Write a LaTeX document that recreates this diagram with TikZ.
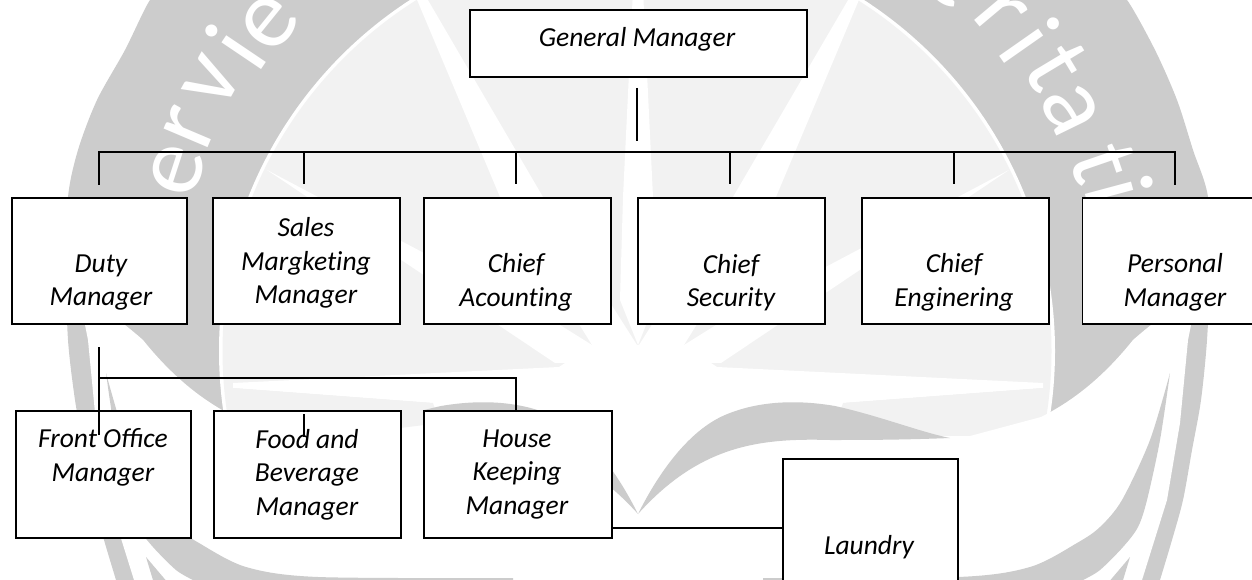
\documentclass[tikz,border=0pt]{standalone}
\usepackage{fontspec}
\setmainfont{Carlito}
\definecolor{wmdark}{HTML}{CCCCCC}
\definecolor{wmlight}{HTML}{F2F2F2}
\tikzset{
  orgbox/.style={draw=black,line width=1.8pt,fill=white,inner sep=0pt},
  lbl/.style={font=\fontsize{27.5}{33.4}\selectfont\itshape,align=center,inner sep=0pt,anchor=center,text=black},
  link/.style={draw=black,line width=1.5pt},
  wl/.style={font=\fontsize{100}{100}\selectfont,text=white,inner sep=0pt}
}
\newcommand{\wmhalf}{%
  % rays
  \fill[white] (638,-10) -- (643,-10) -- (653,197) -- (656,300) -- (638,345) -- cycle;
  \fill[white] (861,-5) -- (776,197) -- (684,345) -- (639,345) -- (733,197) -- (851,-5) -- cycle;
  \fill[white] (1009,170) -- (716,325) -- (684,345) -- (639,362) -- (721,363) -- cycle;
  % white swoosh
  \fill[white] (1198,290) .. controls (1170,310) and (1150,325) .. (1133,340) .. controls (1105,375) and (1075,400) .. (1041,417) -- (970,436) -- (638,436) -- (638,600) -- (1130,600) -- (1139,590) -- (1142,580) -- (1167,500) -- (1180,423) -- (1188,340) -- cycle;
  % central white
  \fill[white] (638,436) -- (638,345) -- (684,345) -- (717,367) -- (840,373) -- (1043,383) -- (1043,388) -- (843,403) -- (830,436) -- cycle;
  % lower light piece
  \fill[wmlight] (843,403) -- (1043,388) -- (1038,410) .. controls (1020,420) and (1000,428) .. (965,435) -- (950,436) .. controls (920,430) and (880,416) .. cycle;
  % wing
  \fill[wmdark] (638,514) .. controls (660,470) and (690,430) .. (725,415) .. controls (760,400) and (800,400) .. (835,406) .. controls (880,416) and (920,432) .. (950,438) .. controls (900,440) and (860,440) .. (830,440) .. controls (760,438) and (700,445) .. cycle;
  % inner swoosh
  \fill[wmdark] plot[smooth] coordinates {(1170,373) (1150,440) (1122,500) (1100,527) (1077,543) (1030,567) (958,577) (763,578)} -- (763,590) -- (1070,590) -- plot[smooth] coordinates {(1083,580) (1100,570) (1123,547) (1138,527) (1147,500) (1160,440) (1170,373)} -- cycle;
  \fill[wmdark] (1130,557) -- (1102,590) -- (1120,590) -- cycle;
}
\begin{document}
\begin{tikzpicture}[x=1pt,y=-1pt]
\useasboundingbox (0,0) rectangle (1252,580);
\begin{scope}
\clip (0,0) rectangle (1252,580);
% outer shape
\fill[wmdark] plot[smooth] coordinates {(1110,-10) (1127,0) (1155,50) (1177,100) (1193,150) (1208,197) (1210,268) (1207,340) (1201,400) (1192,450) (1183,500) (1172,540) (1160,580) (1157,590)}
 -- plot[smooth] coordinates {(119,590) (116,580) (104,540) (93,500) (84,450) (75,400) (68,340) (66,268) (68,197) (78,150) (97,100) (125,50) (150,0) (166,-10)} -- cycle;
\fill[white] (637,351) circle[radius=418];
\fill[wmlight] (637,351) circle[radius=414.5];
\wmhalf
\begin{scope}[xshift=1276pt,xscale=-1]
\wmhalf
\end{scope}
\fill[white] (400,425) rectangle (424,537);
\fill[wmlight] (400,412) -- (424,408) -- (424,425) -- (400,428) -- cycle;
% letters
\node[wl,rotate=72] (wa) at (177,170) {e};
\node[wl,rotate=67] (wb) at (190,128) {r};
\node[wl,rotate=61] (wc) at (213,82) {v};
\node[wl,rotate=56] (wd) at (235,47) {i};
\node[wl,rotate=51] (we) at (270,23) {e};
\node[wl,rotate=46] (wn) at (314,-32) {n};
\node[wl,rotate=-45] (wf) at (952,-20) {e};
\node[wl,rotate=-50] (wg) at (1000,13) {r};
\node[wl,rotate=-55] (wh) at (1030,40) {i};
\node[wl,rotate=-59] (wi) at (1057,67) {t};
\node[wl,rotate=-64] (wj) at (1070,110) {a};
\node[wl,rotate=-71] (wk) at (1103,163) {t};
\node[wl,rotate=-75] (wm) at (1120,190) {i};
\end{scope}
% boxes
\node[orgbox,anchor=north west,minimum width=337pt,minimum height=67pt] (gm) at (469,9) {};
\node[orgbox,anchor=north west,minimum width=175pt,minimum height=126pt] (duty) at (11,197) {};
\node[orgbox,anchor=north west,minimum width=187pt,minimum height=126pt] (sales) at (212,197) {};
\node[orgbox,anchor=north west,minimum width=187pt,minimum height=126pt] (acc) at (423,197) {};
\node[orgbox,anchor=north west,minimum width=187pt,minimum height=126pt] (sec) at (637,197) {};
\node[orgbox,anchor=north west,minimum width=187pt,minimum height=126pt] (eng) at (861,197) {};
\node[orgbox,anchor=north west,minimum width=180pt,minimum height=126pt] (pers) at (1081.5,197) {};
\node[orgbox,anchor=north west,minimum width=175pt,minimum height=127pt] (front) at (15,410) {};
\node[orgbox,anchor=north west,minimum width=187pt,minimum height=127pt] (food) at (213,410) {};
\node[orgbox,anchor=north west,minimum width=188pt,minimum height=127pt] (house) at (423,410) {};
\node[orgbox,anchor=north west,minimum width=175pt,minimum height=130pt] (laundry) at (782,458) {};
% labels
\node[lbl] (gmt) at (637,39.5) {General Manager};
\node[lbl] (dutyt) at (101,282.5) {Duty\\Manager};
\node[lbl] (salest) at (306,263) {Sales\\Margket\kern0pt ing\\Manager};
\node[lbl] (acct) at (516,282.5) {Chief\\Acount\kern0pt ing};
\node[lbl] (sect) at (731,282.5) {Chief\\Security};
\node[lbl] (engt) at (954,282.5) {Chief\\Enginering};
\node[lbl] (perst) at (1175,282.5) {Personal\\Manager};
\node[lbl] (frontt) at (103,457.5) {Front Office\\Manager};
\node[lbl] (foodt) at (307,474.5) {Food and\\Beverage\\Manager};
\node[lbl] (houset) at (517,474.5) {House\\Keeping\\Manager};
\node[lbl] (laundryt) at (869,547.5) {Laundry};
% connectors
\coordinate (gmfree) at (637,88);
\coordinate (gmend) at (637,141);
\draw[link] (gmfree) -- (gmend);
\coordinate (busl) at (99,152);
\coordinate (busr) at (1175,152);
\coordinate (d1) at (99,185);
\coordinate (d2) at (304,184);
\coordinate (d3) at (516,184);
\coordinate (d4) at (730,184);
\coordinate (d5) at (954,184);
\coordinate (d6) at (1175,185);
\draw[link] (d1) -- (busl) -- (busr) -- (d6);
\draw[link] (d2) -- (d2|-busl);
\draw[link] (d3) -- (d3|-busl);
\draw[link] (d4) -- (d4|-busl);
\draw[link] (d5) -- (d5|-busl);
\coordinate (s1) at (99,347);
\coordinate (s2) at (99,435);
\draw[link] (s1) -- (s2);
\coordinate (b2) at (99,378);
\draw[link] (b2) -- (516,378) -- (516,410);
\coordinate (f1) at (304,414);
\coordinate (f2) at (304,437);
\draw[link] (f1) -- (f2);
\draw[link] (611,528) -- (782,528);
\end{tikzpicture}
\end{document}
